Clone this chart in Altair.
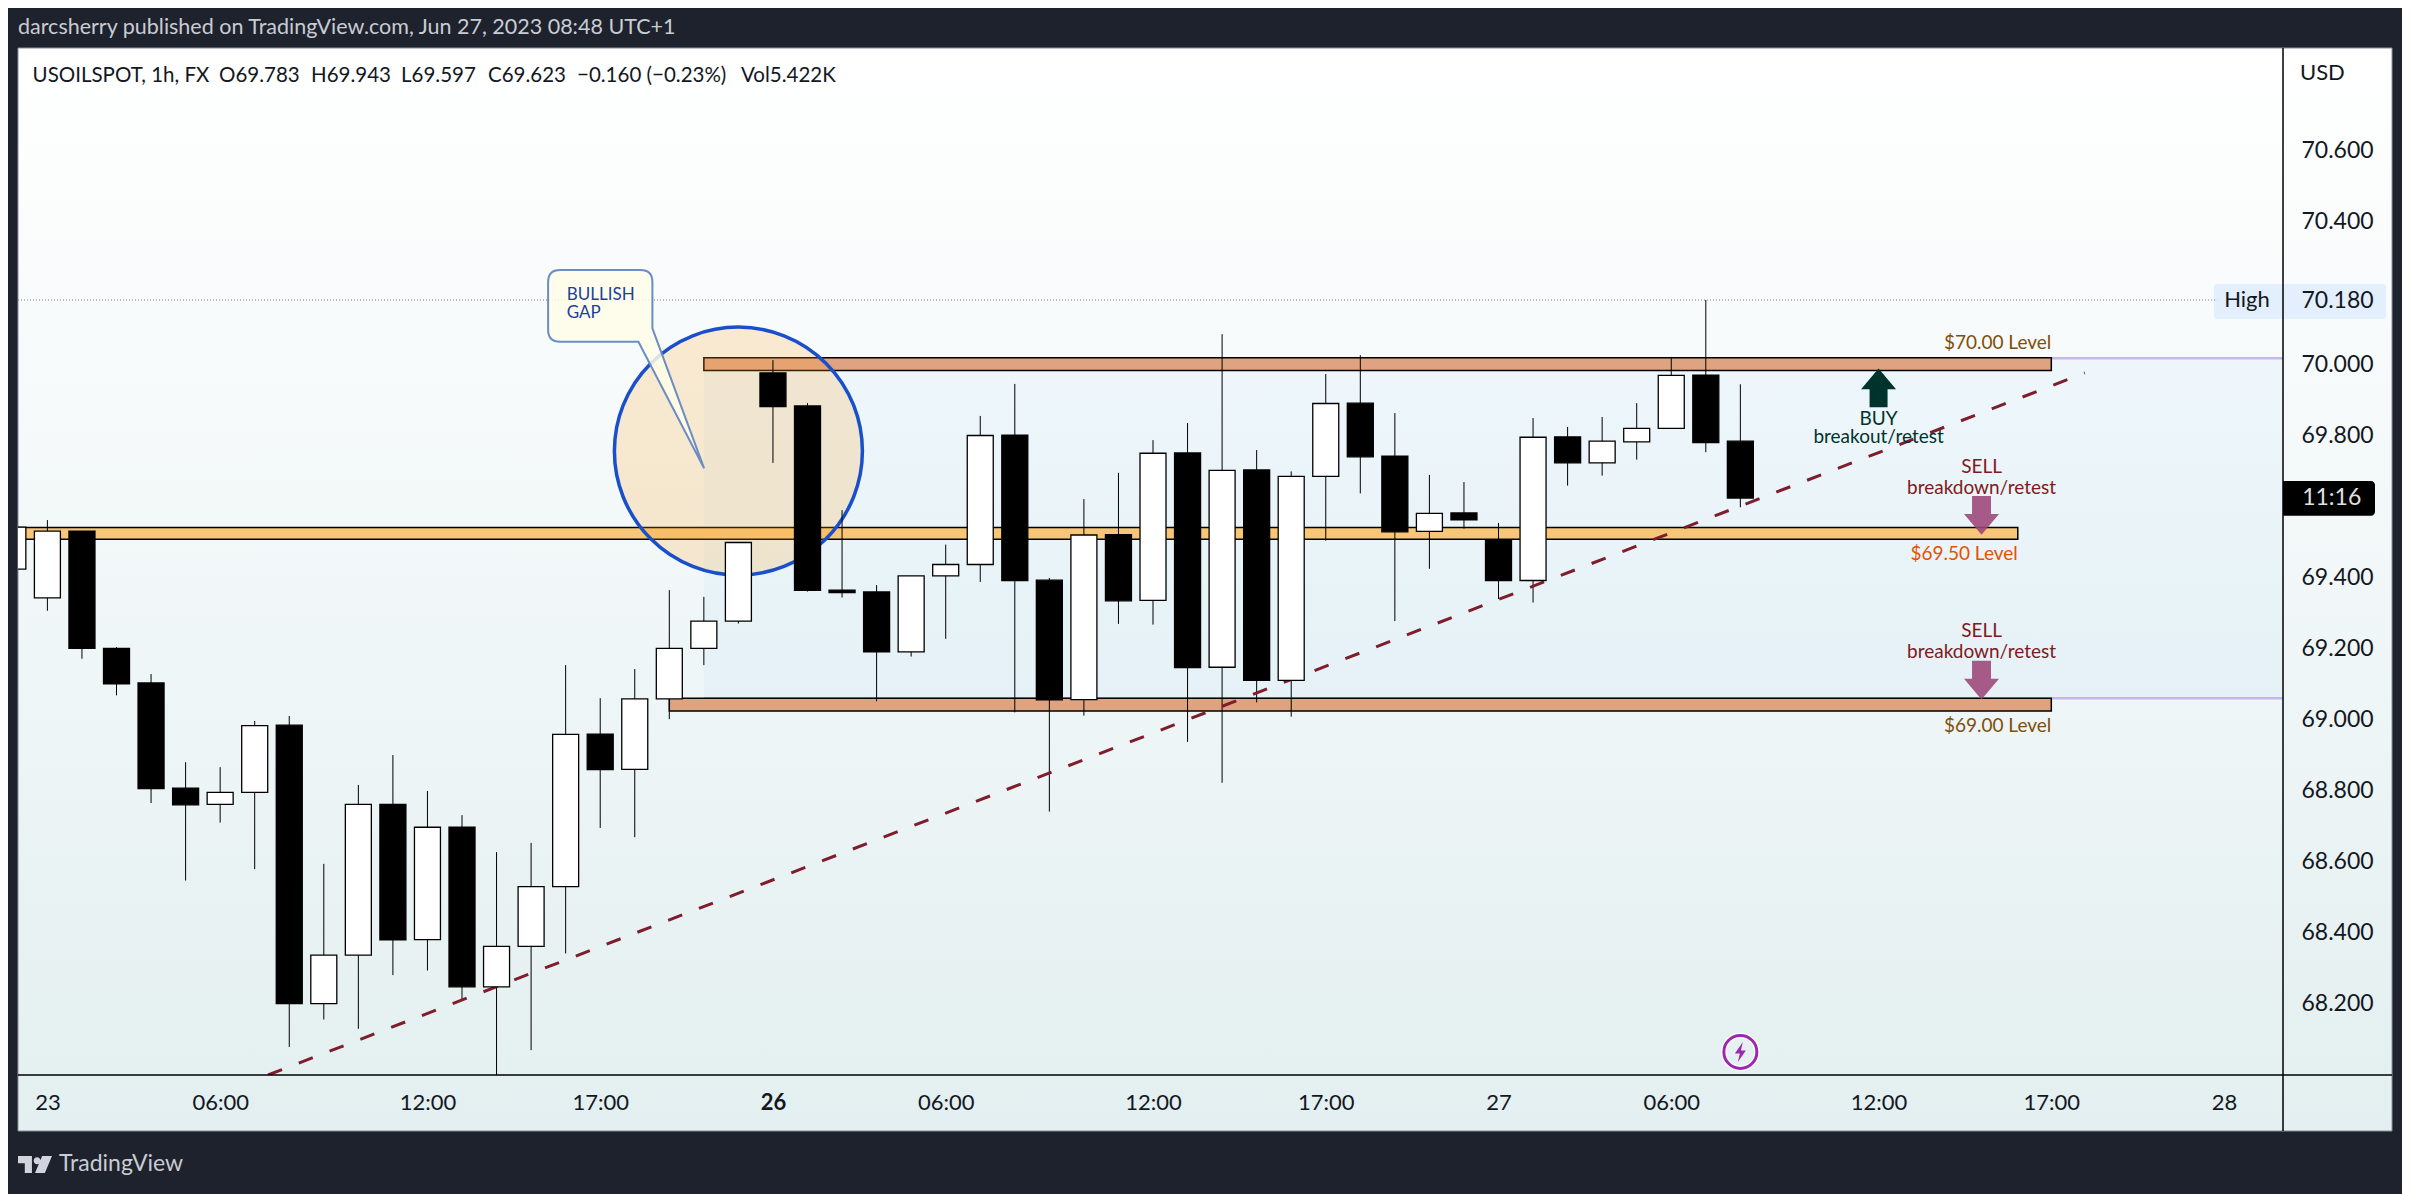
import altair as alt
import pandas as pd

FONT = "Lato"
DARK = "#1e222d"

# hourly candles, USOILSPOT
idx = list(range(-1, 50))
opens = [69.423,69.342,69.530,69.200,69.103,68.807,68.761,68.795,68.984,68.201,68.337,68.761,68.381,68.697,68.248,68.362,68.530,68.959,68.860,69.058,69.200,69.277,69.975,69.882,69.364,69.359,69.190,69.404,69.436,69.800,69.392,69.056,69.520,69.335,69.750,69.147,69.702,69.110,69.684,69.890,69.741,69.529,69.581,69.506,69.391,69.795,69.722,69.781,69.819,69.969,69.783]
highs = [69.560,69.561,69.530,69.204,69.128,68.880,68.866,68.996,69.010,68.594,68.816,68.900,68.799,68.731,68.627,68.653,69.153,69.060,69.142,69.364,69.345,69.498,70.011,69.890,69.589,69.378,69.404,69.492,69.854,69.944,69.398,69.620,69.694,69.786,69.834,70.084,69.758,69.698,69.972,70.025,69.862,69.688,69.668,69.553,69.848,69.823,69.851,69.890,70.020,70.180,69.943]
lows = [69.400,69.306,69.171,69.068,68.765,68.547,68.710,68.579,68.079,68.156,68.130,68.281,68.294,68.212,67.980,68.070,68.342,68.695,68.669,69.001,69.153,69.270,69.722,69.360,69.343,69.051,69.177,69.227,69.387,69.020,68.741,69.011,69.269,69.267,68.937,68.822,69.048,69.008,69.503,69.636,69.277,69.424,69.537,69.339,69.329,69.658,69.686,69.731,69.819,69.752,69.597]
closes = [69.541,69.530,69.200,69.100,68.806,68.760,68.795,68.983,68.201,68.337,68.761,68.380,68.697,68.248,68.362,68.530,68.958,68.859,69.058,69.200,69.277,69.498,69.880,69.363,69.357,69.190,69.404,69.436,69.799,69.391,69.055,69.519,69.334,69.749,69.146,69.701,69.110,69.684,69.889,69.739,69.528,69.580,69.562,69.391,69.794,69.722,69.783,69.819,69.968,69.779,69.623]

candles = pd.DataFrame({"i": idx, "o": opens, "h": highs, "l": lows, "c": closes})
candles["top"] = candles[["o", "c"]].max(axis=1)
candles["bot"] = candles[["o", "c"]].min(axis=1)
candles["dir"] = ["up" if c >= o else "down" for o, c in zip(opens, closes)]

price_ticks = [68.2, 68.4, 68.6, 68.8, 69.0, 69.2, 69.4, 69.8, 70.0, 70.18, 70.4, 70.6]
time_ticks = [0, 5, 11, 16, 21, 26, 32, 37, 42, 47, 53, 58, 63]
time_labels = ["23", "06:00", "12:00", "17:00", "26", "06:00", "12:00", "17:00", "27", "06:00", "12:00", "17:00", "28"]

bands = pd.DataFrame({
    "x1": [19, -1, 18], "x2": [58, 57.03, 58],
    "p1": [70.018, 69.540, 69.060], "p2": [69.982, 69.507, 69.024],
    "kind": ["a", "b", "a"],
})
gap_left, gap_top, gap_bottom = 19, 70.016, 69.060
trend = pd.DataFrame({"i": [6.385, 58.97], "p": [68.0, 69.975]})

XD = [-0.851, 64.706]
YD = [68.0, 70.889]
sx = alt.Scale(domain=XD, nice=False, zero=False, padding=0)
sy = alt.Scale(domain=YD, nice=False, zero=False, padding=0)
x_axis = alt.Axis(
    values=time_ticks, title=None, grid=False, ticks=False, domain=False, labelFont=FONT, labelFontSize=22,
    labelColor="#131722", labelPadding=27, labelBaseline="middle", labelOverlap=False, labelFlush=False,
    labelFontWeight=alt.expr("datum.value == 21 ? 'bold' : 'normal'"),
    labelExpr="{" + ",".join(f"'{k}':'{v}'" for k, v in zip(time_ticks, time_labels)) + "}[datum.value]",
    zindex=1)
y_axis = alt.Axis(
    orient="right", values=price_ticks, format=".3f", title=None, grid=False, ticks=False, domain=False,
    labelFont=FONT, labelFontSize=23, labelColor="#131722", labelPadding=18, labelOverlap=False,
    labelFlush=False, zindex=1)
X = lambda f="i": alt.X(f"{f}:Q", scale=sx, axis=x_axis)
Y = lambda f="p": alt.Y(f"{f}:Q", scale=sy, axis=y_axis)
one = alt.Data(values=[{"k": 1}])
W, H = 2265, 1027


def px_text(text, x, y, size, color, align="left", weight="normal"):
    return alt.Chart(one).mark_text(text=text, font=FONT, fontSize=size, color=color, align=align,
                                    baseline="middle", fontWeight=weight).encode(x=alt.value(x), y=alt.value(y))


def px_rect(x, x2, y, y2, **kw):
    return alt.Chart(one).mark_rect(**kw).encode(x=alt.value(x), x2=alt.value(x2), y=alt.value(y), y2=alt.value(y2))


def px_rule(color, width, x, y, x2=None, y2=None):
    enc = dict(x=alt.value(x), y=alt.value(y))
    if x2 is not None:
        enc["x2"] = alt.value(x2)
    if y2 is not None:
        enc["y2"] = alt.value(y2)
    return alt.Chart(one).mark_rule(color=color, strokeWidth=width).encode(**enc)


def data_text(text, i, p, size, color, align="center"):
    d = alt.Data(values=[{"i": i, "p": p, "t": text}])
    return alt.Chart(d).mark_text(font=FONT, fontSize=size, color=color, align=align, baseline="middle").encode(
        x=X(), y=Y(), text="t:N")


def glyph(path, i, p, size, **kw):
    d = alt.Data(values=[{"i": i, "p": p}])
    return alt.Chart(d).mark_point(shape=path, size=size, **kw).encode(x=X(), y=Y())


grad = alt.Gradient(gradient="linear", x1=0, x2=0, y1=0, y2=1,
                    stops=[alt.GradientStop(offset=0, color="#ffffff"),
                           alt.GradientStop(offset=1, color="#e3eff0")])
panel = px_rect(0, 2374, 0, 1083, fill=grad, stroke="#8a8e99", strokeWidth=1)

high_tag = px_rect(2196, 2368, 236, 271, fill="#e3effd", cornerRadius=3)
time_tag = alt.Chart(alt.Data(values=[{"a": 69.671, "b": 69.573}])).mark_rect(color="#000000", cornerRadiusTopRight=4, cornerRadiusBottomRight=4).encode(
    x=alt.value(2265), x2=alt.value(2357), y=alt.Y("a:Q", scale=sy, axis=y_axis), y2="b:Q")

dotted = alt.Chart(alt.Data(values=[{"p": 70.18, "a": XD[0], "b": 62.8}])).mark_rule(
    color="#787b86", strokeWidth=1, strokeDash=[1, 2]).encode(x=X("a"), x2="b:Q", y=Y())

gap = alt.Chart(alt.Data(values=[{"a": gap_left, "b": XD[1], "t": gap_top, "u": gap_bottom}])).mark_rect(
    color="#2196f3", opacity=0.04).encode(x=X("a"), x2="b:Q", y=Y("t"), y2="u:Q")
gap_lines = alt.Chart(alt.Data(values=[{"a": gap_left, "b": XD[1], "p": gap_top}, {"a": gap_left, "b": XD[1], "p": gap_bottom}])).mark_rule(
    color="#c5b8e8", strokeWidth=2.5).encode(x=X("a"), x2="b:Q", y=Y())

band_marks = alt.Chart(bands).mark_rect(stroke="#000000", strokeWidth=1.5, clip=True).encode(
    x=X("x1"), x2="x2:Q", y=Y("p1"), y2="p2:Q",
    fill=alt.condition("datum.kind == 'a'", alt.value("#e0a382"), alt.value("#f6c679")))

circle = glyph("circle", 20, 69.755, 61504, filled=True, fill="#ffa726", fillOpacity=0.2, stroke="#1a4fcb",
               strokeWidth=3.5, strokeOpacity=1, opacity=1)

wicks = alt.Chart(candles).mark_rule(color="#000000", strokeWidth=1, clip=True).encode(x=X(), y=Y("l"), y2="h:Q")
trend_line = alt.Chart(trend).mark_line(color="#7f1d2d", strokeWidth=3, strokeDash=[15, 18], clip=True).encode(x=X(), y=Y())
bodies = alt.Chart(candles).mark_bar(size=26, stroke="#000000", strokeWidth=1.3, clip=True).encode(
    x=X(), y=Y("top"), y2="bot:Q",
    fill=alt.condition("datum.dir == 'up'", alt.value("#ffffff"), alt.value("#000000")))

CALLOUT = ("M-0.846 -1.271 H0.183 Q0.337 -1.271 0.337 -1.117 V-0.524 L1 1.271 L0.158 -0.352 H-0.846 "
           "Q-1 -0.352 -1 -0.506 V-1.117 Q-1 -1.271 -0.846 -1.271 Z")
callout = glyph(CALLOUT, 16.75, 69.9855, 24336, filled=True, fill="#fffde7", fillOpacity=0.85,
                stroke="#6b8cc4", strokeWidth=2, strokeOpacity=1, opacity=1)

UP = "M0 -1 L0.904 0.07 H0.465 V1 H-0.465 V0.07 H-0.904 Z"
DOWN = "M-0.49 -1 H0.49 V-0.07 H0.904 L0 1 L-0.904 -0.07 H-0.49 Z"
arrow_buy = glyph(UP, 53, 69.933, 1498, filled=True, fill="#00332c", fillOpacity=1, strokeWidth=0, opacity=1)
arrow_s1 = glyph(DOWN, 55.98, 69.574, 1498, filled=True, fill="#9c4477", fillOpacity=0.88, strokeWidth=0, opacity=1)
arrow_s2 = glyph(DOWN, 55.98, 69.111, 1498, filled=True, fill="#9c4477", fillOpacity=0.88, strokeWidth=0, opacity=1)

BOLT = "M0.25 -1 L-0.55 0.15 H-0.05 L-0.25 1 L0.55 -0.15 H0.05 Z"
bolt_ring_w = glyph("circle", 49, 68.065, 1089, filled=False, stroke="#ffffff", strokeWidth=5.5, opacity=1)
bolt_ring = glyph("circle", 49, 68.065, 1089, filled=False, stroke="#9c27b0", strokeWidth=3, opacity=1)
bolt = glyph(BOLT, 49, 68.065, 400, filled=True, fill="#9c27b0", fillOpacity=1, strokeWidth=0, opacity=1)

LOGO = ("M-1 -0.5 H-0.18 V0.5 H-0.6 V-0.08 H-1 Z "
        "M0.32 -0.22 A0.2 0.2 0 1 1 -0.08 -0.22 A0.2 0.2 0 1 1 0.32 -0.22 Z "
        "M0.42 -0.5 H1 L0.58 0.5 H0 Z")
logo = alt.Chart(one).mark_point(shape=LOGO, size=1156, filled=True, fill="#d1d4dc", fillOpacity=1, strokeWidth=0, opacity=1).encode(
    x=alt.value(17), y=alt.value(1116.5))

legend_parts = ["USOILSPOT, 1h, FX", "O69.783", "H69.943", "L69.597", "C69.623", "\u22120.160 (\u22120.23%)", "Vol5.422K"]
legend_x = [14.6, 201, 293, 383, 470, 559, 723]

texts = [px_text(t, x, 28, 20.5, "#131722") for t, x in zip(legend_parts, legend_x)] + [
    px_text("darcsherry published on TradingView.com, Jun 27, 2023 08:48 UTC+1", 0, -20, 21.5, "#c9ccd4"),
    px_text("USD", 2282, 25, 22, "#131722"),
    px_text("High", 2229, 252, 22, "#131722", align="center"),
    px_text("11:16", 2313.7, 450, 23, "#e0e0e0", align="center"),
    px_text("TradingView", 41, 1116, 23, "#c9ccd4"),
    data_text("BULLISH", 15.03, 70.194, 17, "#1c3f9c", "left"),
    data_text("GAP", 15.03, 70.143, 17, "#1c3f9c", "left"),
    data_text("$70.00 Level", 58, 70.060, 19, "#7f4f0a", "right"),
    data_text("$69.50 Level", 57.03, 69.466, 19, "#e65100", "right"),
    data_text("$69.00 Level", 58, 68.983, 19, "#7f4f0a", "right"),
    data_text("BUY", 53, 69.846, 19, "#00332c"),
    data_text("breakout/retest", 53, 69.794, 19, "#00332c"),
    data_text("SELL", 55.98, 69.711, 19, "#801922"),
    data_text("breakdown/retest", 55.98, 69.652, 19, "#801922"),
    data_text("SELL", 55.98, 69.250, 19, "#801922"),
    data_text("breakdown/retest", 55.98, 69.190, 19, "#801922"),
]

frame = [
    px_rule("#000000", 1.5, 0, H, x2=2374),
    px_rule("#000000", 1.5, W, 0, y2=1083),
]

layers = [panel, high_tag, dotted, gap, gap_lines, band_marks, circle, wicks, trend_line, bodies, callout,
          arrow_buy, arrow_s1, arrow_s2, bolt_ring_w, bolt_ring, bolt, time_tag] + frame + [logo] + texts

chart = alt.layer(*layers).properties(
    width=W, height=H,
    padding={"left": 10, "top": 40, "right": 119, "bottom": 119},
    autosize=alt.AutoSizeParams(type="none", contains="content"),
    background=DARK,
).configure_view(stroke=None)

chart.save("out.html", embed_options={"renderer": "svg", "actions": False})
